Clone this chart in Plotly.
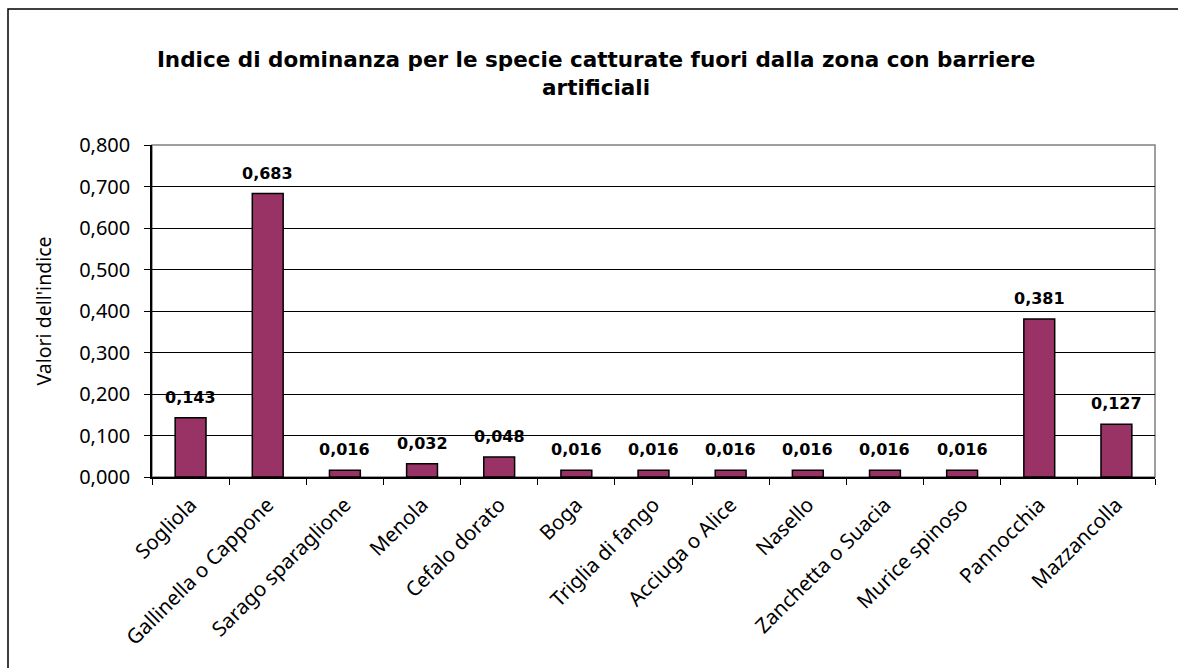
import plotly.graph_objects as go

categories = ["Sogliola", "Gallinella o Cappone", "Sarago sparaglione", "Menola",
              "Cefalo dorato", "Boga", "Triglia di fango", "Acciuga o Alice",
              "Nasello", "Zanchetta o Suacia", "Murice spinoso", "Pannocchia",
              "Mazzancolla"]
values = [0.143, 0.683, 0.016, 0.032, 0.048, 0.016, 0.016, 0.016, 0.016,
          0.016, 0.016, 0.381, 0.127]
y_ticks = [0.0, 0.1, 0.2, 0.3, 0.4, 0.5, 0.6, 0.7, 0.8]

W, H = 1178, 668
L, R, T, B = 152, 23, 145, 191
pw, ph = W - L - R, H - T - B

def px_x(p):
    return (p - L) / pw

def px_y(p):
    return (H - B - p) / ph

labels = [f"{v:.3f}".replace(".", ",") for v in values]

fig = go.Figure(go.Bar(
    x=categories, y=values,
    marker=dict(color="#993366", line=dict(color="black", width=1.5)),
    width=0.4,
))

annotations = [
    dict(x=c, y=v, xref="x", yref="y", text=t, showarrow=False,
         yanchor="bottom", yshift=9,
         font=dict(family="DejaVu Sans", size=16, color="black", weight="bold"))
    for c, v, t in zip(categories, values, labels)
]

fig.update_layout(
    width=W, height=H,
    margin=dict(l=L, r=R, t=T, b=B),
    paper_bgcolor="white", plot_bgcolor="white",
    separators=",.",
    showlegend=False,
    annotations=annotations,
    title=dict(
        text="Indice di dominanza per le specie catturate fuori dalla zona con barriere<br>artificiali",
        x=0.506, xref="container", xanchor="center",
        y=1 - 67 / H, yref="container", yanchor="top",
        font=dict(family="DejaVu Sans", size=21.5, color="black", weight="bold"),
    ),
    font=dict(family="Noto Sans", size=20, color="black"),
    shapes=[
        dict(type="rect", xref="paper", yref="paper",
             x0=0, x1=1, y0=0, y1=1,
             line=dict(color="#808080", width=1.5), layer="below"),
        dict(type="rect", xref="paper", yref="paper",
             x0=px_x(8), x1=px_x(W + 10), y0=px_y(9), y1=px_y(H + 10),
             line=dict(color="black", width=1.5)),
    ],
)

fig.update_xaxes(
    type="category", tickangle=-45,
    ticks="outside", tickson="boundaries", ticklen=6, tickcolor="black",
    showline=True, linecolor="black", linewidth=1.5,
    showgrid=False, ticklabelstandoff=6,
    tickfont=dict(family="Noto Sans", size=20.5, color="black"),
)
fig.update_yaxes(
    range=[0, 0.8], tickvals=y_ticks, tickformat=".3f",
    ticks="outside", ticklen=6, tickcolor="black",
    showline=True, linecolor="black", linewidth=1.5,
    showgrid=True, gridcolor="black", gridwidth=1,
    zeroline=False, ticklabelstandoff=10,
    tickfont=dict(family="Noto Sans", size=20, color="black"),
    title=dict(text="Valori dell'indice", standoff=22,
               font=dict(family="Noto Sans", size=19.5, color="black")),
)

fig.write_html("out.html", config={"displayModeBar": False},
               post_script="document.body.style.margin='0';")
